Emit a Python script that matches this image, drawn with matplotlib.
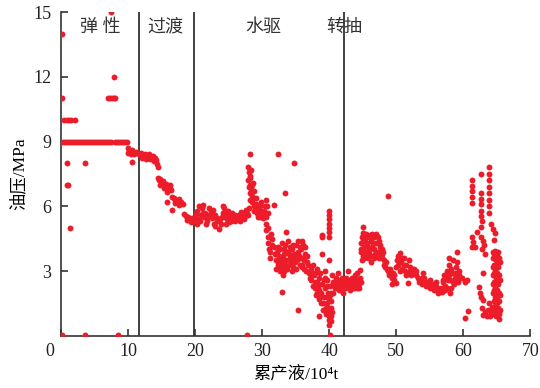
import matplotlib
matplotlib.use('Agg')
import matplotlib.pyplot as plt
import matplotlib.transforms as mtransforms

plt.rcParams['font.family'] = ['Liberation Serif', 'Noto Sans CJK SC', 'DejaVu Serif']

# 弹性阶段
x_elastic = [0.2, 0.5, 0.8, 1.1, 1.4, 1.7, 2.0, 2.3, 2.6, 2.9, 3.2, 3.5, 3.8, 4.1, 4.4, 4.7,
             5.0, 5.3, 5.6, 5.9, 6.2, 6.5, 6.8, 7.1, 7.4, 8.0, 8.3, 8.6, 8.9, 9.2, 9.5, 9.8,
             0.1, 0.1, 0.4, 0.8, 1.1, 1.5, 2.0, 0.9, 3.5, 0.8, 1.0, 1.3, 0.1, 3.5, 8.5,
             7.4, 7.9, 6.9, 7.2, 7.5, 7.8, 8.0,
             9.9, 10.1, 10.3, 10.5, 10.7, 10.9, 11.1, 11.3, 10.0, 10.4, 10.6]
y_elastic = [9.0, 9.0, 9.0, 9.0, 9.0, 9.0, 9.0, 9.0, 9.0, 9.0, 9.0, 9.0, 9.0, 9.0, 9.0, 9.0,
             9.0, 9.0, 9.0, 9.0, 9.0, 9.0, 9.0, 9.0, 9.0, 9.0, 9.0, 9.0, 9.0, 9.0, 9.0, 9.0,
             14.0, 11.0, 10.0, 10.0, 10.0, 10.0, 10.0, 8.0, 8.0, 7.0, 7.0, 5.0, 0.05, 0.05, 0.05,
             15.0, 12.0, 11.0, 11.0, 11.0, 11.0, 11.0,
             8.7, 8.6, 8.5, 8.6, 8.5, 8.4, 8.5, 8.45, 8.45, 8.4, 8.05]

# 过渡阶段
x_trans = [11.6, 11.9, 12.2, 12.5, 12.8, 13.1, 13.4, 13.7, 14.0, 14.2, 12.0, 12.7, 13.3, 13.9, 14.3, 14.5,
           14.4, 14.6, 14.8, 15.0, 15.2, 15.4, 15.6, 15.8, 16.0, 16.2, 16.4, 15.8, 16.3, 14.8, 15.4,
           16.5, 16.8, 17.0, 17.3, 17.6, 17.9, 18.2, 16.9, 17.5, 15.8, 16.5,
           18.3, 18.6, 18.9, 19.2, 19.5, 19.8, 18.8, 19.3]
y_trans = [8.4, 8.45, 8.35, 8.4, 8.3, 8.4, 8.3, 8.35, 8.25, 8.15, 8.25, 8.2, 8.2, 8.1, 7.95, 7.8,
           7.3, 7.2, 7.25, 7.1, 7.15, 7.0, 7.05, 6.9, 6.95, 6.85, 6.75, 6.65, 7.0, 7.0, 6.85,
           6.45, 6.4, 6.3, 6.25, 6.35, 6.2, 6.1, 6.15, 6.05, 6.2, 5.85,
           5.65, 5.55, 5.5, 5.4, 5.45, 5.3, 5.35, 5.25]

# 水驱阶段
x_water = [20.0, 20.3, 20.5, 20.8, 21.0, 21.3, 21.5, 21.8, 22.0, 22.3, 22.5, 22.8, 23.0, 23.3, 23.5, 23.8,
           24.0, 24.3, 24.5, 24.8, 25.0, 25.3, 25.6, 25.9, 26.2, 26.5, 26.8, 27.0, 27.3, 27.6, 27.8,
           20.5, 21.2, 22.1, 24.2, 24.6, 26.0, 27.2, 20.2, 21.6, 23.0, 25.0, 26.6, 28.0,
           28.1, 27.9, 28.0, 28.1, 27.9, 28.2, 28.0, 28.3, 28.1, 28.4, 28.2, 28.5, 28.6, 28.8, 28.7, 28.3,
           28.7, 29.0, 29.2, 29.4, 29.6, 29.8, 30.0, 30.2, 30.4, 30.6, 30.8, 29.3, 30.1, 29.0,
           31.8, 32.3, 34.7, 33.4,
           30.5, 30.6, 30.8, 30.9, 31.0, 31.2, 31.4, 31.5, 31.7, 31.9, 30.8, 31.3, 31.1,
           32.0, 32.2, 32.4, 32.6, 32.8, 33.0, 33.2, 33.4, 33.6, 33.6, 33.8, 34.0, 34.2, 34.4, 34.6, 34.8,
           35.0, 35.2, 35.4, 35.6, 35.8, 35.9, 36.0, 36.2, 36.4, 36.6, 32.1, 32.9, 33.3, 34.1, 34.9, 35.3,
           36.1, 36.5, 32.5, 33.9, 35.7, 34.5,
           36.8, 37.0, 37.2, 37.3, 37.5, 37.7, 37.9, 38.0, 38.2, 38.4, 38.5, 38.7, 38.9, 39.0, 39.2, 39.3,
           39.5, 39.6, 39.8, 39.9, 40.0, 40.2, 40.3, 40.1, 39.4, 38.6, 37.6, 38.1, 39.7, 40.4, 38.9, 39.9,
           38.9, 33.1, 33.0, 35.4, 38.4, 38.9, 40.1, 27.7,
           39.9, 39.9, 39.9, 39.9, 39.9, 39.9, 39.9,
           40.4, 40.6, 40.8, 41.0, 41.2, 41.4, 41.6, 41.8, 42.0, 42.3, 42.5, 40.6, 41.3, 42.1]
y_water = [5.5, 5.8, 5.4, 5.6, 5.9, 5.5, 5.7, 5.3, 5.6, 5.8, 5.45, 5.2, 5.6, 5.3, 4.95, 5.2,
           5.5, 5.9, 5.7, 5.4, 5.6, 5.3, 5.5, 5.3, 5.4, 5.6, 5.75, 5.5, 5.7, 5.85, 5.6,
           6.0, 6.05, 5.9, 6.0, 5.2, 5.6, 5.4, 5.2, 5.2, 5.1, 5.25, 5.3, 5.9,
           8.4, 7.8, 7.6, 7.4, 7.2, 7.0, 6.9, 6.8, 6.6, 6.5, 6.3, 6.2, 7.1, 6.7, 6.0, 7.7,
           5.8, 6.1, 5.7, 5.9, 5.5, 6.2, 5.8, 5.6, 6.0, 6.3, 5.7, 5.5, 5.45, 6.4,
           6.06, 8.4, 8.0, 6.6,
           5.2, 4.9, 4.6, 4.3, 4.0, 3.9, 4.2, 4.5, 4.1, 3.8, 5.0, 4.7, 3.6,
           3.5, 3.9, 3.3, 4.0, 3.6, 3.2, 3.8, 4.2, 4.8, 3.5, 3.9, 3.3, 4.1, 3.7, 3.2, 3.8,
           4.2, 3.5, 3.9, 3.3, 4.0, 4.4, 3.6, 3.1, 3.8, 3.4, 3.1, 4.3, 3.0, 3.6, 3.4, 4.4,
           4.2, 3.0, 3.7, 4.4, 3.6, 4.0,
           3.3, 2.9, 3.1, 2.6, 2.3, 2.8, 2.2, 1.9, 2.5, 1.7, 2.1, 1.5, 2.4, 1.2, 1.8, 2.7,
           1.0, 1.5, 2.0, 0.73, 1.3, 0.9, 1.6, 2.3, 3.0, 2.9, 3.3, 3.1, 2.6, 1.1, 3.8, 3.5,
           4.67, 2.8, 2.05, 1.2, 0.9, 4.6, 0.05, 0.05,
           5.8, 5.6, 5.4, 5.2, 5.0, 4.8, 4.6,
           2.8, 2.5, 2.2, 2.7, 2.4, 2.1, 2.6, 2.3, 2.5, 2.2, 2.7, 2.0, 2.9, 2.0]

# 水驱阶段密集点
x_water_dense = [20.1, 20.7, 21.1, 21.9, 22.4, 22.7, 23.2, 23.7, 24.1, 24.4, 24.9, 25.2, 25.5, 25.8,
                 26.4, 26.9, 27.4, 27.7,
                 28.9, 29.1, 29.5, 29.7, 29.9, 30.3, 30.5, 30.7, 28.6, 28.4, 28.2,
                 32.3, 32.7, 33.1, 33.5, 33.7, 34.3, 34.7, 35.1, 35.5, 35.9, 36.3, 36.7, 32.4, 33.2,
                 34.6, 35.6, 36.4, 33.0, 34.0, 35.0, 32.6, 36.0, 34.4, 33.4,
                 37.1, 37.4, 37.8, 38.1, 38.3, 38.6, 38.8, 39.1, 39.3, 39.5, 39.7, 40.0, 40.1, 40.2,
                 39.8, 40.0, 39.6, 38.4, 37.9, 39.2, 40.3, 39.9, 40.2,
                 40.5, 40.9, 41.1, 41.5, 41.7, 41.9, 42.2]
y_water_dense = [5.65, 5.3, 5.7, 5.5, 5.6, 5.85, 5.45, 5.4, 5.7, 5.5, 5.8, 5.5, 5.7, 5.5,
                 5.5, 5.45, 5.55, 5.7,
                 6.0, 5.9, 5.7, 6.0, 5.6, 5.8, 5.5, 6.0, 6.4, 7.0, 7.3,
                 3.4, 3.0, 3.6, 3.9, 3.1, 3.4, 3.6, 3.8, 3.7, 3.2, 3.5, 3.7, 4.1, 4.0,
                 4.2, 4.1, 4.1, 3.4, 3.8, 3.1, 3.2, 3.3, 3.0, 3.3,
                 2.7, 2.9, 2.5, 2.0, 2.3, 1.8, 2.0, 1.5, 2.2, 1.3, 1.8, 1.7, 1.9, 1.3,
                 1.1, 0.9, 2.3, 2.7, 2.9, 2.6, 2.0, 0.5, 0.7,
                 2.4, 2.5, 2.2, 2.4, 2.1, 2.7, 2.4]

# 转抽阶段
x_pump = [42.8, 42.7, 43.0, 43.2, 43.4, 43.6, 43.8, 44.0, 44.2, 44.4, 44.6, 44.6, 43.1, 43.7, 44.8,
          44.7, 44.8, 45.0, 45.1, 45.1, 45.2, 45.4, 45.5, 45.7, 45.9, 46.0, 46.2, 46.3, 46.4, 46.6, 46.8,
          47.0, 47.2, 47.3, 47.5, 47.7, 47.9, 45.3, 46.1, 46.9, 44.9, 45.8, 47.4, 48.7,
          48.1, 48.3, 48.5, 48.7, 48.9, 49.1, 49.3, 49.5, 49.7, 49.9, 50.1, 50.3, 50.5, 50.7, 50.9, 51.1,
          51.3, 51.5, 51.8, 51.7, 52.0, 52.2, 52.4, 52.7, 53.0, 53.3, 50.0, 49.4, 50.6, 51.9,
          53.6, 53.9, 54.2, 54.5, 54.8, 55.1, 55.4, 55.7, 56.0, 56.3, 56.6, 54.0, 55.0, 55.9, 56.8,
          56.9, 57.1, 57.3, 57.5, 57.7, 57.9, 58.1, 58.3, 58.5, 58.7, 58.9, 59.0, 59.2, 59.4, 58.0, 58.6,
          59.5, 59.8, 60.2, 60.6, 60.2, 60.7, 57.8,
          61.3, 61.3, 61.3, 61.3, 61.3, 61.3, 61.5, 61.8, 61.3,
          62.6, 62.6, 62.6, 62.7, 62.6, 62.7, 62.8, 62.7, 62.0, 62.6, 62.9, 63.1, 62.8, 63.2, 63.0, 62.3,
          62.5, 62.7, 62.9, 62.8, 63.2, 63.5, 63.0, 63.7,
          63.9, 63.9, 63.9, 63.9, 63.9, 63.9, 63.9, 63.9, 64.1, 64.4, 64.7, 64.6,
          64.4, 64.8, 65.2, 64.5, 64.9, 65.3, 64.4, 64.8, 65.2, 64.5, 64.9, 65.3, 64.4, 64.8, 65.2, 64.5,
          64.9, 65.3, 64.6, 65.0, 65.4, 64.7, 65.1, 65.4, 64.9, 63.9, 64.2, 64.0, 64.3]
y_pump = [3.0, 2.4, 2.6, 2.3, 2.7, 2.5, 2.8, 2.6, 2.9, 2.4, 2.7, 3.05, 2.1, 2.2, 2.5,
          3.9, 4.3, 3.7, 5.03, 4.75, 4.1, 4.5, 3.8, 4.2, 4.6, 3.9, 4.4, 3.43, 4.1, 4.6, 3.8,
          4.3, 4.6, 3.9, 4.2, 3.7, 4.0, 4.6, 4.65, 4.65, 3.5, 3.6, 3.6, 6.5,
          3.5, 3.2, 3.4, 3.0, 2.8, 3.1, 2.7, 2.9, 2.6, 3.2, 3.5, 3.7, 3.82, 3.4, 3.1, 3.6,
          3.0, 3.3, 2.43, 2.9, 3.2, 2.8, 3.1, 2.9, 3.0, 2.7, 2.43, 2.4, 3.0, 3.5,
          2.6, 2.4, 2.7, 2.3, 2.5, 2.2, 2.4, 2.1, 2.3, 2.0, 2.2, 2.9, 2.6, 2.5, 2.05,
          2.5, 2.8, 2.3, 3.0, 2.6, 3.3, 2.2, 2.9, 3.5, 2.7, 3.2, 3.9, 2.5, 3.0, 2.6, 2.4,
          2.7, 2.7, 2.5, 2.6, 0.81, 1.15, 3.6,
          7.2, 6.95, 6.7, 6.45, 6.15, 4.6, 4.35, 4.1, 4.1,
          7.5, 6.6, 6.35, 6.1, 5.8, 5.55, 5.3, 5.05, 4.83, 4.6, 4.4, 4.2, 4.0, 3.8, 2.9, 2.26,
          2.0, 1.8, 1.66, 1.3, 1.1, 0.9, 0.95, 1.2,
          7.8, 7.5, 7.2, 6.9, 6.6, 6.3, 6.0, 5.7, 5.2, 4.95, 4.75, 4.44,
          3.9, 3.95, 3.9, 3.6, 3.5, 3.6, 3.2, 3.1, 3.2, 2.8, 2.7, 2.8, 2.4, 2.3, 2.4, 2.0,
          1.9, 2.0, 1.6, 1.5, 1.6, 1.2, 1.1, 0.8, 0.9, 1.5, 1.1, 0.9, 1.35]

# 转抽阶段密集点
x_pump_dense = [42.4, 42.9, 43.3, 43.5, 43.9, 44.1, 44.3, 44.5,
                44.8, 45.0, 45.3, 45.6, 45.9, 46.2, 46.5, 46.7, 47.1, 47.4, 47.6, 47.8, 45.5,
                46.4, 47.0, 45.2, 46.6, 47.9, 48.0, 44.9,
                48.2, 48.6, 49.0, 49.2, 49.6, 50.2, 50.4, 50.8, 51.2, 51.4, 52.1, 52.6, 52.9, 53.4,
                53.8, 54.3, 54.7, 55.2, 55.6, 56.1, 56.5, 57.0, 57.4, 57.8, 58.2, 58.4, 58.8, 59.1,
                59.3, 57.6, 57.2, 58.0,
                64.6, 65.0, 64.6, 65.0, 64.6, 65.0, 64.6, 65.0, 64.6, 65.0, 64.7, 65.1, 64.8, 65.2,
                65.3, 64.5, 65.5, 65.5, 65.5, 65.5]
y_pump_dense = [2.5, 2.3, 2.5, 2.2, 2.4, 2.2, 2.6, 2.2,
                4.0, 4.4, 3.9, 4.3, 4.0, 3.7, 4.3, 4.0, 3.8, 4.4, 4.1, 3.8, 4.7,
                4.7, 4.7, 3.6, 3.6, 3.6, 3.9, 4.6,
                3.3, 3.1, 3.0, 2.9, 2.8, 3.3, 3.5, 3.6, 3.3, 2.8, 3.0, 3.1, 2.8, 2.5,
                2.7, 2.5, 2.4, 2.4, 2.3, 2.2, 2.1, 2.6, 2.7, 2.8, 3.1, 2.5, 2.9, 3.4,
                2.8, 2.2, 2.1, 2.0,
                3.8, 3.7, 3.3, 3.3, 2.9, 2.9, 2.5, 2.5, 2.1, 2.1, 1.8, 1.8, 1.4, 1.3,
                1.0, 1.0, 3.4, 2.6, 1.9, 1.2]

stage_bounds = [11.6, 19.8, 42.2]
stage_names = ['弹 性', '过渡', '水驱', '转抽']
stage_label_x = [5.8, 15.6, 30.1, 42.3]

xs = x_elastic + x_trans + x_water + x_water_dense + x_pump + x_pump_dense
ys = y_elastic + y_trans + y_water + y_water_dense + y_pump + y_pump_dense

fig = plt.figure(figsize=(5.4, 3.88), dpi=100)
ax = fig.add_axes([0.1135, 0.1345, 0.8685, 0.8345])

ax.scatter(xs, ys, s=18, color='#ec1c2a', linewidths=0, zorder=3)

for b in stage_bounds:
    ax.axvline(b, color='#333333', lw=1.3, zorder=2)
for name, sx in zip(stage_names, stage_label_x):
    ax.text(sx, 14.3, name, ha='center', va='center', fontsize=13, color='#333333')

ax.set_xlim(0, 70)
ax.set_ylim(0, 15)
ax.set_xticks(range(0, 71, 10))
ax.set_yticks([3, 6, 9, 12, 15])
ax.tick_params(direction='in', length=5, width=1.1, labelsize=13, colors='#222222')
ax.tick_params(axis='y', pad=7)
ax.tick_params(axis='x', pad=5)
for side in ['top', 'right']:
    ax.spines[side].set_visible(False)
for side in ['left', 'bottom']:
    ax.spines[side].set_linewidth(1.2)
    ax.spines[side].set_color('#333333')

# 原点 0 向左偏移
lab0 = ax.get_xticklabels()[0]
lab0.set_transform(lab0.get_transform() + mtransforms.ScaledTranslation(-0.11, 0, fig.dpi_scale_trans))

ax.set_xlabel('累产液/10⁴t', fontsize=12.5, labelpad=5)
ax.set_ylabel('油压/MPa', fontsize=12.5, labelpad=4)

fig.savefig('out.png', dpi=100)
